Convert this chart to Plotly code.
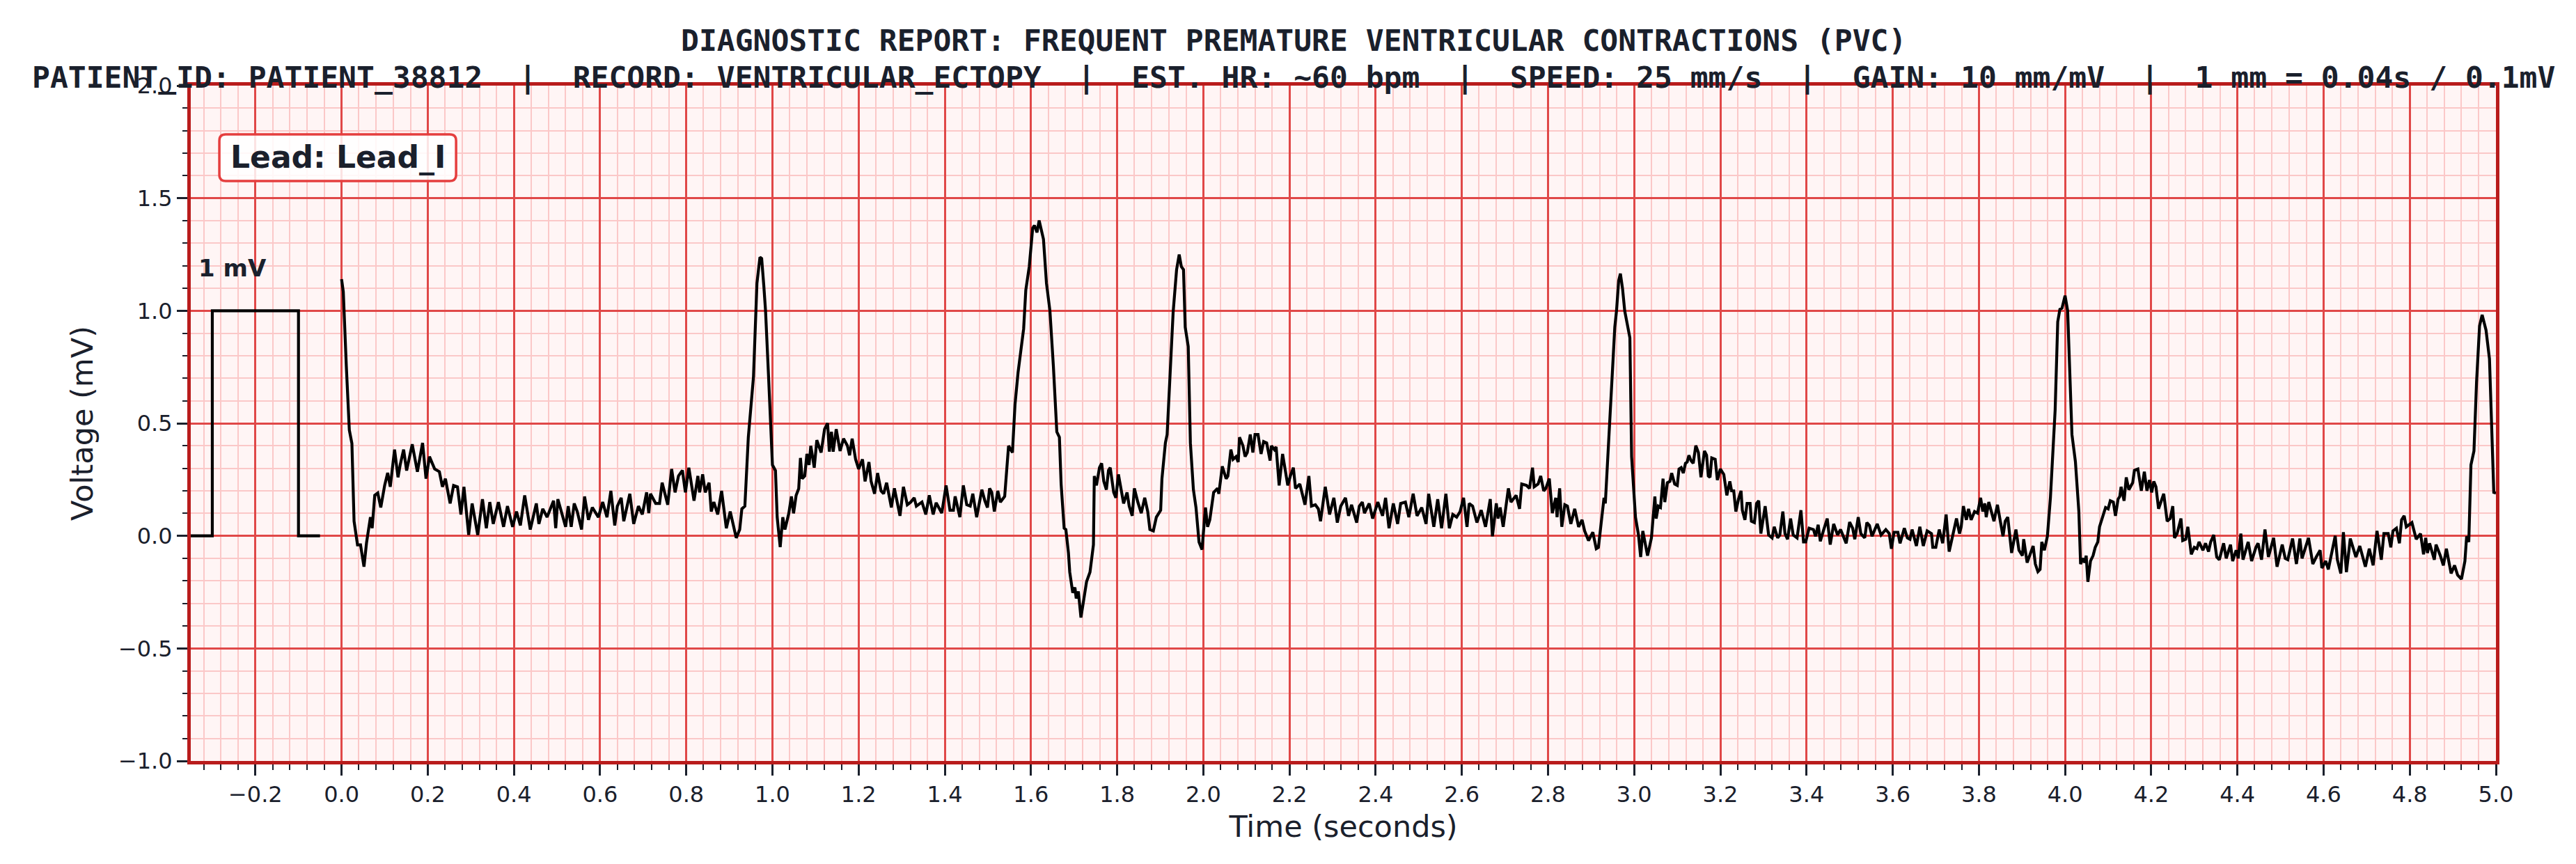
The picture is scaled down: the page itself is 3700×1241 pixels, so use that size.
import plotly.graph_objects as go

# -----------
# calibration pulse (1 mV square wave before the strip)

cal_t = [-0.35, -0.30, -0.30, -0.10, -0.10, -0.05]
cal_mv = [0.0, 0.0, 1.0, 1.0, 0.0, 0.0]

# -----------
# lead I trace

t_0 = [0.0, 0.004, 0.011, 0.018, 0.024, 0.029, 0.037, 0.044, 0.052, 0.058, 0.067, 0.071, 0.077, 0.084,
       0.091, 0.1, 0.107, 0.113, 0.123, 0.131, 0.136, 0.144, 0.151, 0.164, 0.176, 0.188, 0.196, 0.204,
       0.216, 0.227, 0.234, 0.241, 0.252, 0.26, 0.269, 0.277, 0.284, 0.295, 0.303, 0.316, 0.327, 0.336,
       0.344, 0.352, 0.364, 0.376, 0.385, 0.397, 0.406, 0.415, 0.425, 0.438, 0.452, 0.458, 0.467, 0.477,
       0.492, 0.497, 0.502, 0.511, 0.52, 0.526, 0.533, 0.54, 0.547, 0.557, 0.564, 0.573, 0.582, 0.596,
       0.606, 0.616, 0.625, 0.634, 0.64, 0.649, 0.655, 0.669, 0.678, 0.689, 0.698, 0.708, 0.713, 0.717,
       0.729, 0.738, 0.744, 0.757, 0.766, 0.774, 0.782, 0.791, 0.798, 0.806, 0.818, 0.827, 0.831, 0.838,
       0.844, 0.853, 0.858, 0.864, 0.873, 0.882, 0.893, 0.902, 0.916, 0.924, 0.929, 0.936, 0.944, 0.956,
       0.964, 0.971, 0.975, 0.98, 0.984, 0.991]
mv_0 = [1.14, 1.085, 0.755, 0.47, 0.41, 0.065, -0.04, -0.04, -0.137, -0.03, 0.083, 0.034, 0.18, 0.19,
        0.126, 0.224, 0.28, 0.218, 0.383, 0.26, 0.315, 0.383, 0.29, 0.407, 0.285, 0.413, 0.254, 0.352,
        0.297, 0.285, 0.218, 0.254, 0.144, 0.224, 0.218, 0.095, 0.218, 0.004, 0.144, 0.004, 0.163, 0.034,
        0.15, 0.053, 0.15, 0.04, 0.132, 0.04, 0.108, 0.046, 0.18, 0.028, 0.144, 0.053, 0.12, 0.083,
        0.156, 0.034, 0.163, 0.095, 0.04, 0.132, 0.04, 0.144, 0.108, 0.028, 0.175, 0.071, 0.126, 0.083,
        0.15, 0.083, 0.2, 0.046, 0.132, 0.169, 0.065, 0.187, 0.053, 0.132, 0.095, 0.193, 0.101, 0.187,
        0.144, 0.144, 0.236, 0.138, 0.297, 0.193, 0.266, 0.291, 0.193, 0.303, 0.156, 0.266, 0.193, 0.273,
        0.193, 0.236, 0.108, 0.15, 0.095, 0.2, 0.034, 0.108, -0.009, 0.028, 0.12, 0.132, 0.438, 0.707,
        1.122, 1.238, 1.232, 1.11, 1.0, 0.707]

t_1 = [1.0, 1.007, 1.011, 1.018, 1.024, 1.029, 1.038, 1.044, 1.049, 1.055, 1.061, 1.065, 1.069, 1.075,
       1.08, 1.085, 1.089, 1.097, 1.103, 1.113, 1.121, 1.128, 1.132, 1.137, 1.141, 1.148, 1.157, 1.165,
       1.174, 1.179, 1.185, 1.193, 1.2, 1.209, 1.215, 1.224, 1.229, 1.237, 1.244, 1.252, 1.258, 1.265,
       1.276, 1.283, 1.289, 1.296, 1.304, 1.313, 1.321, 1.329, 1.334, 1.347, 1.356, 1.364, 1.373, 1.38,
       1.393, 1.403, 1.412, 1.42, 1.424, 1.435, 1.443, 1.451, 1.459, 1.465, 1.474, 1.486, 1.493, 1.499,
       1.504, 1.509, 1.515, 1.523, 1.529, 1.539, 1.548, 1.557, 1.563, 1.57, 1.583, 1.588, 1.596, 1.604,
       1.608, 1.614, 1.619, 1.629, 1.636, 1.644, 1.652, 1.66, 1.666, 1.67, 1.677, 1.681, 1.687, 1.69,
       1.697, 1.702, 1.705, 1.71, 1.716, 1.723, 1.729, 1.737, 1.745, 1.747, 1.752, 1.759, 1.764, 1.769,
       1.775, 1.78, 1.784, 1.792, 1.797, 1.803, 1.81, 1.815, 1.823, 1.828, 1.835, 1.84, 1.848, 1.856,
       1.864, 1.871, 1.876, 1.884, 1.891, 1.901, 1.904, 1.912, 1.916, 1.924, 1.93, 1.938, 1.944, 1.949,
       1.954, 1.958, 1.965, 1.97, 1.977, 1.983, 1.99, 1.997]
mv_1 = [0.315, 0.29, 0.083, -0.05, 0.083, 0.028, 0.1, 0.175, 0.1, 0.18, 0.21, 0.346, 0.254, 0.266,
        0.364, 0.315, 0.4, 0.303, 0.425, 0.37, 0.474, 0.5, 0.374, 0.462, 0.374, 0.474, 0.377, 0.432,
        0.4, 0.358, 0.432, 0.34, 0.297, 0.34, 0.242, 0.328, 0.242, 0.187, 0.279, 0.2, 0.187, 0.236,
        0.126, 0.211, 0.15, 0.089, 0.218, 0.138, 0.15, 0.169, 0.132, 0.15, 0.095, 0.18, 0.095, 0.147,
        0.101, 0.224, 0.114, 0.114, 0.175, 0.083, 0.224, 0.138, 0.132, 0.187, 0.083, 0.205, 0.156, 0.126,
        0.211, 0.193, 0.108, 0.2, 0.15, 0.175, 0.4, 0.37, 0.584, 0.725, 0.92, 1.092, 1.196, 1.367,
        1.379, 1.348, 1.401, 1.318, 1.122, 1.0, 0.755, 0.462, 0.438, 0.23, 0.034, 0.028, -0.076, -0.161,
        -0.253, -0.229, -0.278, -0.247, -0.363, -0.284, -0.204, -0.161, -0.039, 0.266, 0.224, 0.303, 0.322, 0.242,
        0.205, 0.291, 0.303, 0.193, 0.169, 0.273, 0.193, 0.144, 0.193, 0.132, 0.089, 0.211, 0.15, 0.101,
        0.169, 0.108, 0.028, 0.022, 0.083, 0.114, 0.254, 0.413, 0.45, 0.755, 0.994, 1.183, 1.25, 1.196,
        1.183, 0.927, 0.841, 0.413, 0.205, 0.126, -0.027, -0.061]

t_2 = [2.005, 2.01, 2.015, 2.024, 2.033, 2.036, 2.044, 2.053, 2.057, 2.064, 2.069, 2.076, 2.081, 2.084,
       2.092, 2.097, 2.102, 2.109, 2.115, 2.12, 2.127, 2.134, 2.14, 2.147, 2.155, 2.158, 2.165, 2.169,
       2.176, 2.184, 2.196, 2.202, 2.209, 2.214, 2.224, 2.236, 2.245, 2.251, 2.26, 2.267, 2.272, 2.283,
       2.293, 2.303, 2.311, 2.319, 2.33, 2.337, 2.344, 2.356, 2.362, 2.369, 2.374, 2.385, 2.393, 2.405,
       2.416, 2.423, 2.431, 2.441, 2.451, 2.458, 2.469, 2.477, 2.487, 2.496, 2.507, 2.517, 2.523, 2.535,
       2.544, 2.553, 2.563, 2.571, 2.579, 2.588, 2.596, 2.604, 2.612, 2.617, 2.625, 2.635, 2.645, 2.655,
       2.666, 2.671, 2.68, 2.684, 2.689, 2.696, 2.708, 2.714, 2.726, 2.734, 2.739, 2.75, 2.757, 2.764,
       2.768, 2.777, 2.783, 2.79, 2.795, 2.803, 2.81, 2.818, 2.821, 2.827, 2.832, 2.839, 2.845, 2.853,
       2.862, 2.871, 2.879, 2.885, 2.894, 2.904, 2.912, 2.917, 2.924, 2.93, 2.933, 2.941, 2.948, 2.955,
       2.959, 2.964, 2.968, 2.973, 2.978, 2.984, 2.99, 2.994]
mv_2 = [0.126, 0.04, 0.071, 0.193, 0.211, 0.187, 0.309, 0.254, 0.266, 0.383, 0.34, 0.352, 0.328, 0.438,
        0.4, 0.352, 0.37, 0.45, 0.37, 0.45, 0.45, 0.364, 0.419, 0.413, 0.334, 0.4, 0.383, 0.395,
        0.224, 0.364, 0.224, 0.266, 0.303, 0.211, 0.23, 0.138, 0.266, 0.132, 0.138, 0.12, 0.065, 0.218,
        0.095, 0.169, 0.059, 0.132, 0.169, 0.089, 0.138, 0.059, 0.132, 0.15, 0.101, 0.144, 0.077, 0.15,
        0.089, 0.169, 0.034, 0.144, 0.053, 0.144, 0.15, 0.083, 0.187, 0.089, 0.126, 0.053, 0.187, 0.04,
        0.163, 0.034, 0.187, 0.034, 0.095, 0.083, 0.108, 0.169, 0.04, 0.144, 0.132, 0.059, 0.114, 0.04,
        0.163, -0.002, 0.144, 0.077, 0.126, 0.04, 0.211, 0.15, 0.18, 0.12, 0.23, 0.224, 0.211, 0.303,
        0.218, 0.23, 0.266, 0.2, 0.211, 0.254, 0.101, 0.169, 0.083, 0.211, 0.04, 0.138, 0.132, 0.053,
        0.12, 0.04, 0.071, 0.022, -0.021, 0.016, -0.057, -0.051, 0.083, 0.169, 0.144, 0.438, 0.707, 0.927,
        1.0, 1.134, 1.165, 1.098, 1.0, 0.93, 0.88, 0.352]

t_3 = [3.003, 3.01, 3.015, 3.02, 3.024, 3.031, 3.04, 3.048, 3.051, 3.056, 3.061, 3.067, 3.071, 3.077,
       3.083, 3.087, 3.094, 3.1, 3.104, 3.109, 3.114, 3.119, 3.123, 3.127, 3.132, 3.137, 3.143, 3.149,
       3.155, 3.163, 3.168, 3.172, 3.176, 3.18, 3.188, 3.193, 3.2, 3.208, 3.215, 3.222, 3.226, 3.231,
       3.236, 3.242, 3.248, 3.251, 3.257, 3.262, 3.269, 3.272, 3.279, 3.284, 3.289, 3.294, 3.304, 3.312,
       3.32, 3.325, 3.333, 3.338, 3.345, 3.35, 3.356, 3.363, 3.369, 3.378, 3.387, 3.393, 3.398, 3.406,
       3.416, 3.421, 3.427, 3.432, 3.439, 3.448, 3.455, 3.463, 3.472, 3.479, 3.492, 3.5, 3.507, 3.512,
       3.52, 3.526, 3.535, 3.54, 3.546, 3.552, 3.564, 3.573, 3.584, 3.592, 3.597, 3.603, 3.612, 3.617,
       3.627, 3.634, 3.64, 3.645, 3.655, 3.663, 3.671, 3.68, 3.69, 3.693, 3.7, 3.708, 3.716, 3.724,
       3.731, 3.739, 3.748, 3.755, 3.759, 3.764, 3.771, 3.776, 3.782, 3.79, 3.797, 3.804, 3.809, 3.814,
       3.817, 3.823, 3.835, 3.843, 3.856, 3.861, 3.867, 3.876, 3.886, 3.893, 3.901, 3.904, 3.912, 3.92,
       3.926, 3.931, 3.937, 3.942, 3.946, 3.952, 3.959, 3.966, 3.972, 3.977, 3.983, 3.988, 3.993]
mv_3 = [0.083, 0.004, -0.094, 0.022, -0.015, -0.088, -0.009, 0.175, 0.077, 0.132, 0.126, 0.254, 0.15, 0.236,
        0.242, 0.279, 0.23, 0.224, 0.297, 0.303, 0.279, 0.322, 0.328, 0.358, 0.334, 0.322, 0.401, 0.37,
        0.26, 0.377, 0.358, 0.266, 0.26, 0.346, 0.34, 0.248, 0.297, 0.273, 0.18, 0.242, 0.2, 0.2,
        0.108, 0.163, 0.2, 0.114, 0.071, 0.144, 0.144, 0.065, 0.059, 0.144, 0.156, 0.01, 0.132, 0.004,
        -0.009, 0.04, -0.009, 0.004, 0.108, 0.01, -0.015, 0.077, 0.004, -0.009, 0.114, -0.027, -0.027, 0.034,
        0.028, -0.002, 0.049, -0.024, 0.022, 0.077, -0.039, 0.053, 0.004, 0.028, -0.033, 0.061, 0.034, -0.015,
        0.083, 0.01, -0.009, 0.059, 0.046, -0.002, 0.053, 0.004, 0.028, 0.01, -0.057, 0.016, 0.016, -0.033,
        0.034, -0.009, -0.015, 0.028, -0.045, 0.04, -0.045, 0.022, 0.01, -0.051, -0.051, 0.028, -0.033, 0.095,
        -0.07, 0.004, 0.077, 0.01, 0.04, 0.132, 0.071, 0.12, 0.071, 0.108, 0.101, 0.169, 0.108, 0.144,
        0.083, 0.15, 0.065, 0.138, -0.002, 0.065, 0.083, -0.076, 0.028, -0.064, -0.088, -0.015, -0.119, -0.076,
        -0.045, -0.125, -0.159, -0.149, -0.027, -0.064, -0.002, 0.169, 0.401, 0.56, 0.951, 1.006, 1.012]

t_4 = [4.0, 4.006, 4.011, 4.016, 4.024, 4.032, 4.036, 4.042, 4.046, 4.049, 4.053, 4.059, 4.065, 4.07,
       4.076, 4.08, 4.089, 4.094, 4.1, 4.105, 4.112, 4.117, 4.123, 4.127, 4.13, 4.137, 4.142, 4.148,
       4.157, 4.161, 4.169, 4.177, 4.184, 4.19, 4.196, 4.201, 4.206, 4.211, 4.217, 4.229, 4.237, 4.244,
       4.25, 4.254, 4.26, 4.269, 4.273, 4.28, 4.285, 4.293, 4.3, 4.306, 4.311, 4.32, 4.326, 4.333,
       4.338, 4.345, 4.352, 4.358, 4.368, 4.374, 4.384, 4.389, 4.397, 4.402, 4.408, 4.413, 4.425, 4.433,
       4.443, 4.448, 4.456, 4.464, 4.472, 4.484, 4.492, 4.504, 4.511, 4.517, 4.528, 4.537, 4.545, 4.55,
       4.565, 4.575, 4.583, 4.592, 4.596, 4.605, 4.611, 4.62, 4.627, 4.632, 4.64, 4.646, 4.653, 4.662,
       4.675, 4.684, 4.697, 4.706, 4.715, 4.724, 4.734, 4.74, 4.75, 4.756, 4.761, 4.769, 4.776, 4.781,
       4.787, 4.792, 4.8, 4.805, 4.815, 4.825, 4.832, 4.837, 4.841, 4.846, 4.857, 4.861, 4.871, 4.878,
       4.885, 4.896, 4.904, 4.911, 4.92, 4.928, 4.932, 4.937, 4.942, 4.949, 4.955, 4.962, 4.968, 4.977,
       4.985, 4.991, 4.995, 5.0]
mv_4 = [1.067, 1.0, 0.68, 0.45, 0.33, 0.108, -0.125, -0.1, -0.119, -0.088, -0.204, -0.112, -0.088, -0.051,
        -0.027, 0.04, 0.095, 0.126, 0.12, 0.156, 0.15, 0.089, 0.163, 0.175, 0.218, 0.156, 0.26, 0.205,
        0.236, 0.291, 0.297, 0.2, 0.285, 0.2, 0.248, 0.193, 0.242, 0.218, 0.12, 0.187, 0.065, 0.077,
        0.132, -0.009, 0.01, 0.077, -0.021, -0.015, 0.04, -0.082, -0.051, -0.057, -0.027, -0.064, -0.033, -0.07,
        -0.027, 0.004, -0.094, -0.106, -0.033, -0.1, -0.039, -0.112, -0.064, -0.1, 0.01, -0.106, -0.027, -0.112,
        -0.051, -0.033, -0.106, 0.028, -0.094, -0.009, -0.137, -0.039, -0.1, -0.106, -0.012, -0.125, -0.012, -0.1,
        -0.009, -0.125, -0.094, -0.064, -0.143, -0.112, -0.149, -0.057, 0.0, -0.106, -0.167, 0.016, -0.161, -0.012,
        -0.094, -0.045, -0.137, -0.057, -0.131, 0.022, -0.106, 0.01, 0.01, -0.051, 0.022, 0.034, -0.033, 0.071,
        0.089, 0.04, 0.053, 0.059, -0.015, 0.01, -0.082, -0.009, -0.076, -0.033, -0.106, -0.039, -0.088, -0.131,
        -0.057, -0.167, -0.131, -0.174, -0.192, -0.112, -0.002, -0.027, 0.315, 0.377, 0.682, 0.933, 0.982, 0.914,
        0.786, 0.474, 0.193, 0.19]

ecg_t = t_0 + t_1 + t_2 + t_3 + t_4
ecg_mv = mv_0 + mv_1 + mv_2 + mv_3 + mv_4

# -----------

title_1 = "DIAGNOSTIC REPORT: FREQUENT PREMATURE VENTRICULAR CONTRACTIONS (PVC)"
title_2 = "\u00a0\u00a0|\u00a0\u00a0".join([
    "PATIENT_ID: PATIENT_38812",
    "RECORD: VENTRICULAR_ECTOPY",
    "EST. HR: ~60 bpm",
    "SPEED: 25 mm/s",
    "GAIN: 10 mm/mV",
    "1 mm = 0.04s / 0.1mV",
])

INK = "#1a202c"
MAJOR = "#e04848"
MINOR = "#fbc8c8"
SPINE = "#b91c1c"

cal = go.Scatter(x=cal_t, y=cal_mv, mode="lines",
                 line=dict(color="black", width=4.2), showlegend=False)
ecg = go.Scatter(x=ecg_t, y=ecg_mv, mode="lines",
                 line=dict(color="black", width=4.2), showlegend=False)

fig = go.Figure([cal, ecg])

fig.update_layout(
    width=3700, height=1241,
    margin=dict(l=266, r=123, t=115, b=156),
    paper_bgcolor="white",
    plot_bgcolor="#fff5f5",
    font=dict(family="DejaVu Sans", color=INK, size=32),
)

fig.update_xaxes(
    range=[-0.35, 5.0], tick0=0, dtick=0.2, tickformat=".1f",
    showgrid=True, gridcolor=MAJOR, gridwidth=3, zeroline=False,
    ticks="outside", ticklen=16, tickwidth=3, tickcolor=INK,
    showline=True, linecolor=SPINE, linewidth=5, mirror=True,
    tickfont=dict(size=32, color=INK),
    title=dict(text="Time (seconds)", font=dict(size=43, color=INK), standoff=14),
    minor=dict(dtick=0.04, tick0=0, showgrid=True, gridcolor=MINOR, gridwidth=1.5,
               ticks="outside", ticklen=8, tickwidth=2, tickcolor=INK),
)
fig.update_yaxes(
    range=[-1.0, 2.0], tick0=0, dtick=0.5, tickformat=".1f",
    showgrid=True, gridcolor=MAJOR, gridwidth=3, zeroline=False,
    ticks="outside", ticklen=15, tickwidth=3, tickcolor=INK,
    showline=True, linecolor=SPINE, linewidth=5, mirror=True,
    tickfont=dict(size=32, color=INK),
    title=dict(text="Voltage (mV)", font=dict(size=43, color=INK), standoff=24),
    minor=dict(dtick=0.1, tick0=0, showgrid=True, gridcolor=MINOR, gridwidth=1.5,
               ticks="outside", ticklen=7, tickwidth=2, tickcolor=INK),
)

mono = dict(family="DejaVu Sans Mono", size=43, color=INK, weight=700)

fig.add_annotation(text="<b>" + title_1 + "</b>", xref="paper", yref="paper", x=0.4784, y=1.067,
                   xanchor="center", yanchor="middle", showarrow=False, font=mono)
fig.add_annotation(text="<b>" + title_2 + "</b>", xref="paper", yref="paper", x=0.4784, y=1.0125,
                   xanchor="center", yanchor="middle", showarrow=False, font=mono)

# lead label in a rounded box
bx0, bx1, by0, by1 = 0.0124, 0.1151, 0.8588, 0.9278
rx, ry = 9 / 3311, 9 / 970
box_path = (f"M {bx0 + rx},{by1} L {bx1 - rx},{by1} Q {bx1},{by1} {bx1},{by1 - ry} "
            f"L {bx1},{by0 + ry} Q {bx1},{by0} {bx1 - rx},{by0} "
            f"L {bx0 + rx},{by0} Q {bx0},{by0} {bx0},{by0 + ry} "
            f"L {bx0},{by1 - ry} Q {bx0},{by1} {bx0 + rx},{by1} Z")
fig.add_shape(type="path", path=box_path, xref="paper", yref="paper",
              fillcolor="rgba(255,255,255,0.85)", line=dict(color="#e53e3e", width=3.5),
              layer="above")
fig.add_annotation(text="<b>Lead: Lead_I</b>", xref="paper", yref="paper",
                   x=(bx0 + bx1) / 2, y=(by0 + by1) / 2, xanchor="center", yanchor="middle",
                   showarrow=False, font=dict(family="DejaVu Sans", size=44, color=INK))

fig.add_annotation(text="<b>1 mV</b>", x=-0.335, y=1.19, xanchor="left", yanchor="middle",
                   showarrow=False, font=dict(family="DejaVu Sans", size=34, color=INK))

fig.write_html("out.html")
